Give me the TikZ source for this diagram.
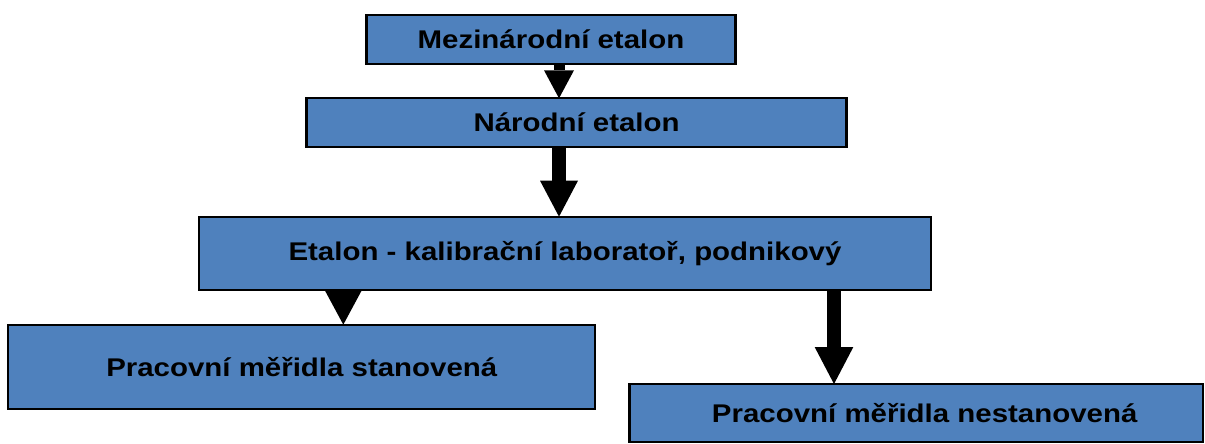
\documentclass[tikz,border=0pt]{standalone}
\usepackage{fontspec}
\newfontfamily\labfont{Liberation Sans}[FakeStretch=1.15]
\usetikzlibrary{arrows.meta}
\definecolor{boxblue}{RGB}{79,129,189}
\begin{document}
\begin{tikzpicture}[x=1pt,y=-1pt,
  box/.style={draw=black, line width=2.3pt, fill=boxblue, inner sep=0pt, outer sep=0pt,
    font=\labfont\bfseries\fontsize{25.6}{30}\selectfont, text=black},
  bigarrow/.style={line width=#1, draw=black}
]
\useasboundingbox (0,0) rectangle (1205,444);
\node[box, minimum width=369pt, minimum height=49pt] (b1) at (551,39.3) {Mezinárodní etalon};
\node[box, minimum width=540pt, minimum height=48.4pt] (b2) at (576.6,122.5) {Národní etalon};
\node[box, minimum width=731.4pt, minimum height=73.3pt] (b3) at (565,253.3) {Etalon - kalibrační laboratoř, podnikový};
\node[box, minimum width=587pt, minimum height=84.3pt] (b4) at (301.8,366.8) {Pracovní měřidla stanovená};
\node[box, minimum width=573.7pt, minimum height=58pt] (b5) at (916.2,413) {\hspace*{17pt}Pracovní měřidla nestanovená};
\coordinate (a1s) at (559,64);
\draw[bigarrow=11pt, -{Triangle[width=30pt,length=28pt,line width=0pt]}] (b1.south -| a1s) -- (b2.north -| a1s);
\draw[bigarrow=13.3pt, -{Triangle[width=38pt,length=36pt,line width=0pt]}] (b2.south -| a1s) -- (b3.north -| a1s);
\coordinate (a3s) at (343.3,290);
\draw[bigarrow=1pt, -{Triangle[width=36.6pt,length=34pt,line width=0pt]}] (b3.south -| a3s) -- (b4.north -| a3s);
\coordinate (a4s) at (834,290);
\draw[bigarrow=13.3pt, -{Triangle[width=38.7pt,length=37pt,line width=0pt]}] (b3.south -| a4s) -- (b5.north -| a4s);
\end{tikzpicture}
\end{document}
